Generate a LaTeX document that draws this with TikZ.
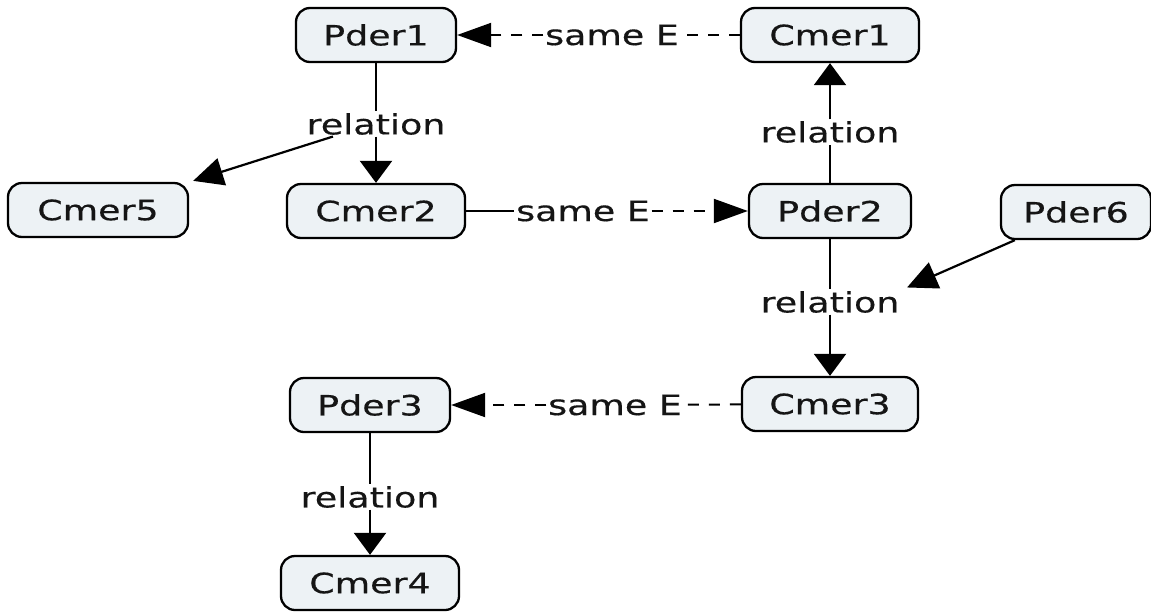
\documentclass[tikz,border=0pt]{standalone}
\usepackage{fontspec}
\newfontfamily\vf[FakeStretch=1.3,FakeBold=0.4]{DejaVu Sans}
\usetikzlibrary{arrows.meta}
\definecolor{boxfill}{HTML}{EDF2F5}
\definecolor{ink}{HTML}{151515}
\tikzset{
  concept/.style={draw=black, line width=2.3pt, fill=boxfill, rounded corners=14pt,
    minimum height=54pt, inner sep=0pt, text=ink, font=\vf\fontsize{28}{33}\selectfont},
  lbl/.style={fill=white, inner sep=1.5pt, text=ink, font=\vf\fontsize{28}{33}\selectfont},
  ln/.style={line width=2.2pt, black},
  dl/.style={line width=2pt, black, dash pattern=on 11pt off 10pt},
  varr/.style={-{Triangle[length=22pt,width=32pt]}},
  harr/.style={-{Triangle[length=34pt,width=24pt]}},
  darr/.style={-{Triangle[length=30pt,width=28pt]}}
}
\begin{document}
\begin{tikzpicture}[x=1pt,y=-1pt]
\useasboundingbox (0,0) rectangle (1151,611);
% concepts
\node[concept, minimum width=160pt] (Pder1) at (376,35) {Pder1};
\node[concept, minimum width=178pt] (Cmer1) at (830,35) {Cmer1};
\node[concept, minimum width=180pt] (Cmer5) at (98,210) {Cmer5};
\node[concept, minimum width=178pt] (Cmer2) at (376,211) {Cmer2};
\node[concept, minimum width=162pt] (Pder2) at (830,211) {Pder2};
\node[concept, minimum width=150pt] (Pder6) at (1076,212) {Pder6};
\node[concept, minimum width=160pt] (Pder3) at (370,405) {Pder3};
\node[concept, minimum width=176pt] (Cmer3) at (830,404) {Cmer3};
\node[concept, minimum width=178pt] (Cmer4) at (370,583) {Cmer4};
% labels
\node[lbl] (rel1) at (376,124) {relation};
\node[lbl] (rel2) at (830,132) {relation};
\node[lbl] (rel3) at (830,302) {relation};
\node[lbl] (rel4) at (370,497) {relation};
\node[lbl] (same1) at (612,35) {same E};
\node[lbl] (same2) at (583,211) {same E};
\node[lbl] (same3) at (615,405) {same E};
% connectors
\draw[ln] (Pder1) -- (rel1);
\draw[ln,varr] (rel1) -- (Cmer2);
\draw[ln,darr] ([xshift=28pt]rel1.south west) -- ([shift={(4pt,1pt)}]Cmer5.north east);
\draw[ln] (Pder2) -- (rel2);
\draw[ln,varr] (rel2) -- (Cmer1);
\draw[ln] (Pder2) -- (rel3);
\draw[ln,varr] (rel3) -- (Cmer3);
\draw[ln,darr] ([xshift=15pt]Pder6.south west) -- ([shift={(6pt,2pt)}]rel3.north east);
\draw[ln] (Pder3) -- (rel4);
\draw[ln,varr] (rel4) -- (Cmer4);
\draw[dl] (Cmer1) -- (same1);
\draw[dl,harr] (same1) -- (Pder1);
\draw[ln] (Cmer2) -- (same2);
\draw[dl,harr] (same2) -- (Pder2);
\draw[dl] (Cmer3) -- (same3);
\draw[dl,harr] (same3) -- (Pder3);
\end{tikzpicture}
\end{document}
